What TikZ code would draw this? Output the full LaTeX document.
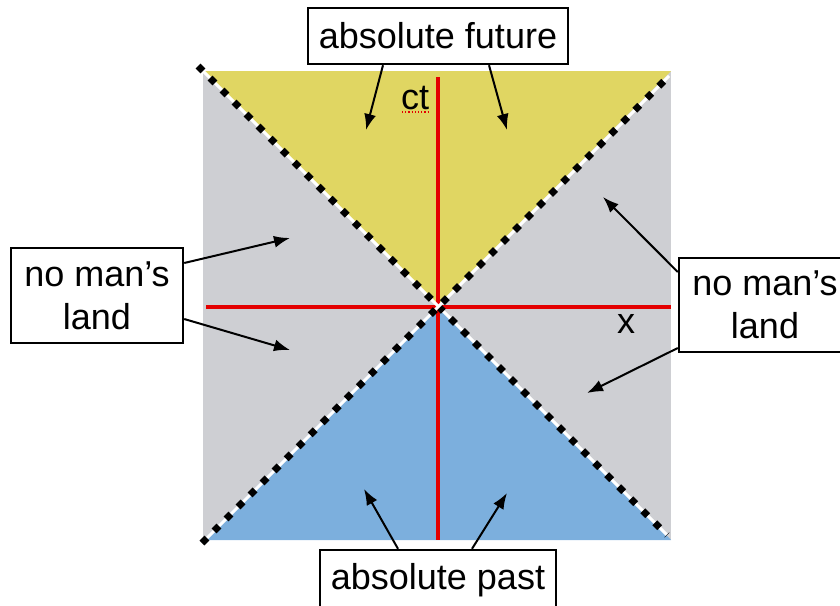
\documentclass[tikz,border=0pt]{standalone}
\usepackage{fontspec}
\setmainfont{Liberation Sans}
\usetikzlibrary{arrows.meta}
\definecolor{cinza}{RGB}{206,207,211}
\definecolor{amarelo}{RGB}{224,214,98}
\definecolor{azul}{RGB}{124,175,221}
\definecolor{vermelho}{RGB}{228,0,0}

\begin{document}
\begin{tikzpicture}[x=1pt,y=-1pt,
        caixa/.style={draw=black,line width=2.4pt,fill=white,inner sep=0pt,align=center,font=\fontsize{36}{43}\selectfont},
        seta/.style={line width=2pt,-{Latex[length=16pt,width=12pt]}}]
        \useasboundingbox (0,0) rectangle (840,605);

        % Regiões
        \fill[cinza] (203,71) rectangle (671,540);
        \fill[amarelo] (203,71) -- (671,71) -- (437,306) -- cycle;
        \fill[azul] (203,540) -- (671,540) -- (437,306) -- cycle;

        % Eixos
        \draw[vermelho,line width=3.5pt] (438,77) -- (438,540);
        \draw[vermelho,line width=3.5pt] (206,307) -- (671,307);
        \node[font=\fontsize{36}{43}\selectfont,anchor=base,inner sep=0pt] (ct) at (415,109) {ct};
        \draw[vermelho,line width=1.2pt,dotted] (402,112) -- (429,112);
        \node[font=\fontsize{36}{43}\selectfont,anchor=base,inner sep=0pt] (x) at (626,333) {x};

        % Cones de luz
        \foreach \xa/\ya/\xb/\yb in {198/66/667/535,202/543/669/76} {
            \draw[white,line width=3pt] (\xa,\ya) -- (\xb,\yb);
            \draw[black,line width=7pt,dash pattern=on 7pt off 10pt] (\xa,\ya) -- (\xb,\yb);
        }

        % Caixas
        \node[caixa,minimum width=260pt,minimum height=56pt] (futuro) at (438,36) {absolute future};
        \node[caixa,minimum width=236pt,minimum height=60pt] (passado) at (438,580) {absolute past};
        \node[caixa,minimum width=172pt,minimum height=95pt] (terraE) at (97,295.5) {no man’s\\land};
        \node[caixa,minimum width=172pt,minimum height=94pt] (terraD) at (765,305) {no man’s\\land};

        % Setas
        \coordinate (f1) at (366,130);
        \coordinate (f2) at (507,130);
        \coordinate (p1) at (364,489);
        \coordinate (p2) at (507,493);
        \coordinate (e1) at (290,238);
        \coordinate (e2) at (290,350);
        \coordinate (d1) at (603,197);
        \coordinate (d2) at (587,393);
        \draw[seta] ([xshift=-55pt]futuro.south) -- (f1);
        \draw[seta] ([xshift=51pt]futuro.south) -- (f2);
        \draw[seta] ([xshift=-40pt]passado.north) -- (p1);
        \draw[seta] ([xshift=34pt]passado.north) -- (p2);
        \draw[seta] ([yshift=32.5pt]terraE.east) -- (e1);
        \draw[seta] ([yshift=-23.5pt]terraE.east) -- (e2);
        \draw[seta] ([yshift=33pt]terraD.west) -- (d1);
        \draw[seta] ([yshift=-43pt]terraD.west) -- (d2);
    \end{tikzpicture}
\end{document}
